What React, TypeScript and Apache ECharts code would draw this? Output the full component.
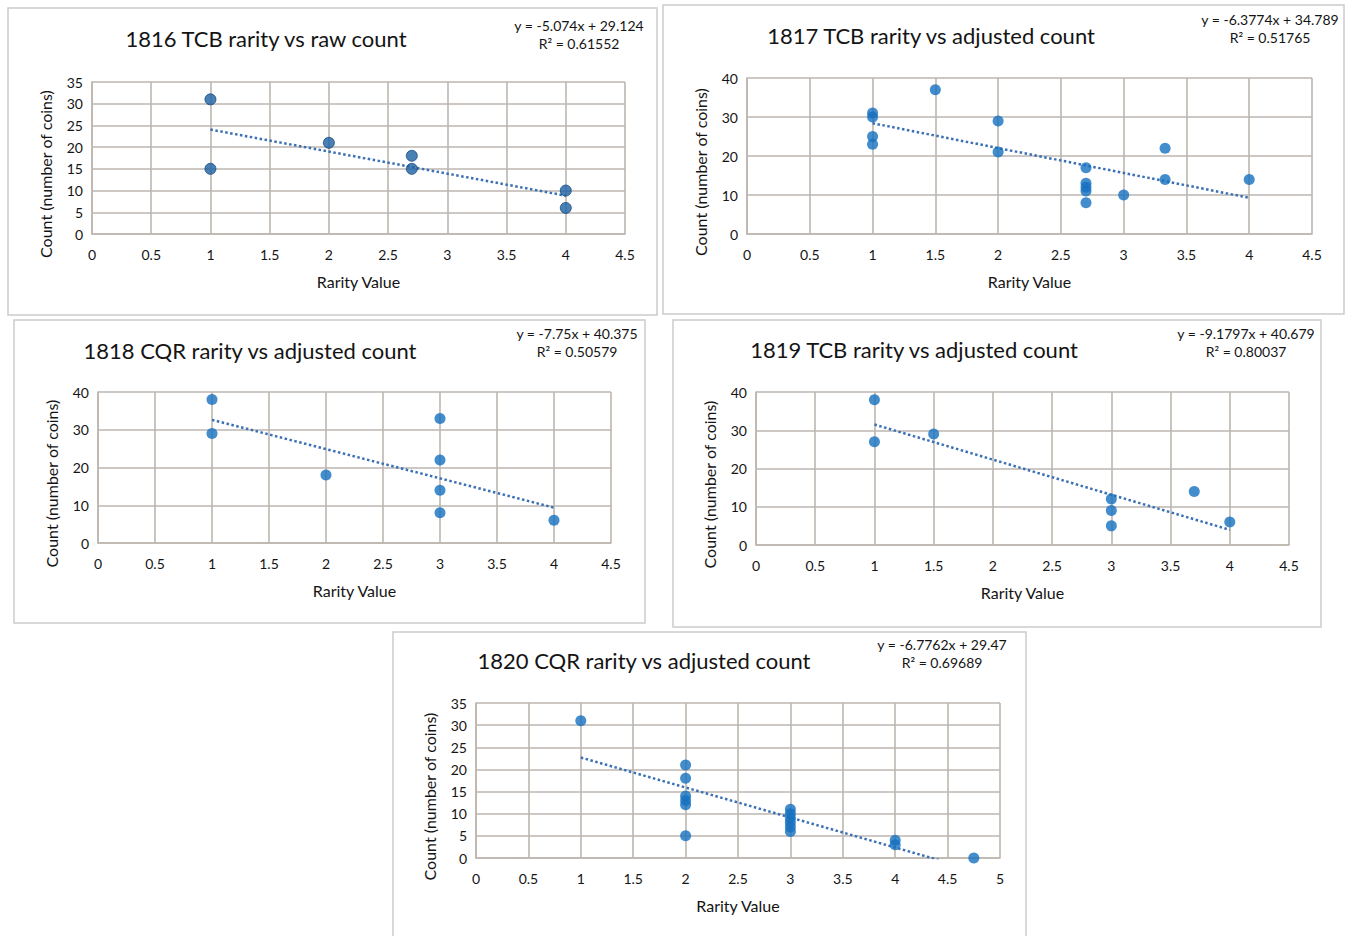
import React, { useEffect, useRef } from "react";
import * as echarts from "echarts";

// ---- data ----
const TITLES = [
  "1816 TCB rarity vs raw count",
  "1817 TCB rarity vs adjusted count",
  "1818 CQR rarity vs adjusted count",
  "1819 TCB rarity vs adjusted count",
  "1820 CQR rarity vs adjusted count",
];
const P1_X = [1, 1, 2, 2.7, 2.7, 4, 4];
const P1_Y = [31, 15, 21, 18, 15, 10, 6];
const P2_X = [1, 1, 1, 1, 1.5, 2, 2, 2.7, 2.7, 2.7, 2.7, 2.7, 3, 3.33, 3.33, 4];
const P2_Y = [31, 30, 25, 23, 37, 29, 21, 17, 13, 12, 11, 8, 10, 22, 14, 14];
const P3_X = [1, 1, 2, 3, 3, 3, 3, 4];
const P3_Y = [38, 29, 18, 33, 22, 14, 8, 6];
const P4_X = [1, 1, 1.5, 3, 3, 3, 3.7, 4];
const P4_Y = [38, 27, 29, 12, 9, 5, 14, 6];
const P5_X = [1, 2, 2, 2, 2, 2, 2, 3, 3, 3, 3, 3, 3, 4, 4, 4.75];
const P5_Y = [31, 21, 18, 14, 13, 12, 5, 11, 10, 9, 8, 7, 6, 4, 3, 0];
const TREND_SLOPE = [-5.074, -6.3774, -7.75, -9.1797, -6.7762];
const TREND_INTERCEPT = [29.124, 34.789, 40.375, 40.679, 29.47];
const EQ_TEXT = [
  "y = -5.074x + 29.124",
  "y = -6.3774x + 34.789",
  "y = -7.75x + 40.375",
  "y = -9.1797x + 40.679",
  "y = -6.7762x + 29.47",
];
const R2_TEXT = ["R² = 0.61552", "R² = 0.51765", "R² = 0.50579", "R² = 0.80037", "R² = 0.69689"];
const X_MAX = [4.5, 4.5, 4.5, 4.5, 5];
const Y_MAX = [35, 40, 40, 40, 35];
const Y_INTERVAL = [5, 10, 10, 10, 5];
const X_NAME = "Rarity Value";
const Y_NAME = "Count (number of coins)";

const XS = [P1_X, P2_X, P3_X, P4_X, P5_X];
const YS = [P1_Y, P2_Y, P3_Y, P4_Y, P5_Y];

// ---- layout ----
const GRIDS = [
  { left: 92, top: 82, width: 533, height: 152 },
  { left: 747, top: 78, width: 565, height: 156 },
  { left: 98, top: 392, width: 513, height: 151 },
  { left: 756, top: 392, width: 533, height: 153 },
  { left: 476, top: 703, width: 524, height: 155 },
];
const BOXES = [
  { x: 8, y: 8, w: 649, h: 307 },
  { x: 663, y: 5, w: 681, h: 309 },
  { x: 14, y: 320, w: 631, h: 303 },
  { x: 673, y: 320, w: 648, h: 307 },
  { x: 393, y: 632, w: 633, h: 310 },
];
const TITLE_POS = [
  [266, 38],
  [931, 35],
  [250, 350],
  [914, 349],
  [644, 660],
];
const EQ_POS = [
  [579, 25],
  [1270, 19],
  [577, 333],
  [1246, 333],
  [942, 644],
];

const FONT = "Lato, 'Open Sans', sans-serif";
const GRID_COLOR = "#bdb6af";
const DOT = "#1570bf";
const TXT = "#141414";

export default function App() {
  const ref = useRef<HTMLDivElement>(null);
  useEffect(() => {
    document.body.style.margin = "0";
    const chart = echarts.init(ref.current!, null, { renderer: "svg" });

    const grid = GRIDS.map((g) => ({ ...g, containLabel: false }));
    const xAxis = GRIDS.map((g, i) => ({
      type: "value",
      gridIndex: i,
      min: 0,
      max: X_MAX[i],
      interval: 0.5,
      name: X_NAME,
      nameLocation: "middle",
      nameGap: 39,
      nameTextStyle: { fontFamily: FONT, fontSize: 16, color: TXT },
      axisLine: { show: true, lineStyle: { color: GRID_COLOR, width: 1.6 } },
      axisTick: { show: false },
      axisLabel: { fontFamily: FONT, fontSize: 14, color: TXT, margin: 13 },
      splitLine: { show: true, lineStyle: { color: GRID_COLOR, width: 1.6 } },
    }));
    const yAxis = GRIDS.map((g, i) => ({
      type: "value",
      gridIndex: i,
      min: 0,
      max: Y_MAX[i],
      interval: Y_INTERVAL[i],
      axisLine: { show: true, lineStyle: { color: GRID_COLOR, width: 1.6 } },
      axisTick: { show: false },
      axisLabel: { fontFamily: FONT, fontSize: 14, color: TXT, margin: 9 },
      splitLine: { show: true, lineStyle: { color: GRID_COLOR, width: 1.6 } },
    }));

    const series: any[] = [];
    XS.forEach((xs, i) => {
      const pts = xs.map((x, k) => [x, YS[i][k]]);
      const x0 = Math.min(...xs);
      const x1 = Math.max(...xs);
      series.push({
        type: "line",
        xAxisIndex: i,
        yAxisIndex: i,
        data: [
          [x0, TREND_SLOPE[i] * x0 + TREND_INTERCEPT[i]],
          [x1, TREND_SLOPE[i] * x1 + TREND_INTERCEPT[i]],
        ],
        showSymbol: false,
        symbol: "none",
        clip: true,
        lineStyle: { color: "#3a70b5", width: 2.5, type: [2.5, 2.5] },
        z: 2,
        silent: true,
      });
      series.push({
        type: "scatter",
        xAxisIndex: i,
        yAxisIndex: i,
        data: pts,
        symbol: "circle",
        symbolSize: 11,
        itemStyle:
          i === 0
            ? { color: "#1c62a4", borderColor: "#164a80", borderWidth: 1 }
            : { color: DOT },
        z: 3,
      });
    });

    const graphic: any[] = [];
    BOXES.forEach((b) => {
      graphic.push({
        type: "rect",
        shape: { x: b.x, y: b.y, width: b.w, height: b.h },
        style: { fill: "none", stroke: "#cccccc", lineWidth: 1.5 },
        silent: true,
      });
    });
    TITLES.forEach((t, i) => {
      graphic.push({
        type: "text",
        x: TITLE_POS[i][0],
        y: TITLE_POS[i][1],
        style: {
          text: t,
          fontFamily: FONT,
          fontSize: 22,
          fill: TXT,
          align: "center",
          verticalAlign: "middle",
        },
      });
      graphic.push({
        type: "text",
        x: EQ_POS[i][0],
        y: EQ_POS[i][1],
        style: {
          text: EQ_TEXT[i],
          fontFamily: FONT,
          fontSize: 14,
          fill: TXT,
          align: "center",
          verticalAlign: "middle",
        },
      });
      graphic.push({
        type: "text",
        x: EQ_POS[i][0],
        y: EQ_POS[i][1] + 18,
        style: {
          text: R2_TEXT[i],
          fontFamily: FONT,
          fontSize: 14,
          fill: TXT,
          align: "center",
          verticalAlign: "middle",
        },
      });
      const g = GRIDS[i];
      graphic.push({
        type: "text",
        x: g.left - 47,
        y: g.top + g.height / 2 + 16,
        rotation: Math.PI / 2,
        style: {
          text: Y_NAME,
          fontFamily: FONT,
          fontSize: 16,
          fill: TXT,
          align: "center",
          verticalAlign: "middle",
        },
      });
    });

    chart.setOption({
      animation: false,
      backgroundColor: "#ffffff",
      grid,
      xAxis,
      yAxis,
      series,
      graphic,
    });
    return () => chart.dispose();
  }, []);
  return <div ref={ref} style={{ width: 1346, height: 936 }} />;
}
